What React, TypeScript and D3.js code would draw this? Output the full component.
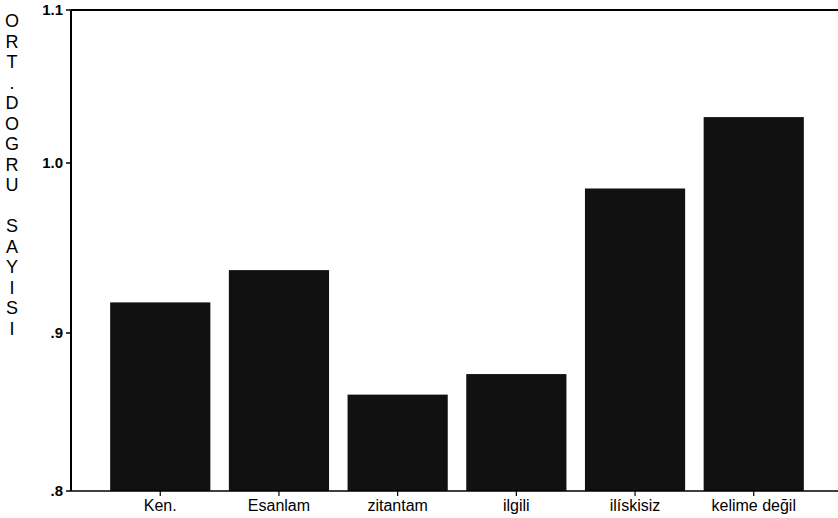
import React from "react";
import * as d3 from "d3";

const categories = ["Ken.", "Esanlam", "zitantam", "ilgili", "ilískisiz", "kelime değil"];
const values = [0.918, 0.937, 0.861, 0.874, 0.985, 1.03];
const yTicks = [0.8, 0.9, 1.0, 1.1];
const yTickLabels = [".8", ".9", "1.0", "1.1"];
const yTitle = "ORT.DOGRU SAYISI";

const W = 838;
const H = 518;

export default function App() {
  const left = 71;
  const top = 10;
  const bottom = 491;
  // scanned axis is slightly non-uniform; piecewise linear scale follows the printed ticks
  const y = d3.scaleLinear().domain(yTicks).range([491, 333, 163, 10]);
  const x = d3
    .scaleBand<string>()
    .domain(categories)
    .range([left, 843])
    .paddingInner(0.156)
    .paddingOuter(0.33);
  const font = "'Liberation Sans', Arial, sans-serif";
  const chars = yTitle.split("");
  return (
    <svg width={W} height={H} style={{ position: "absolute", left: 0, top: 0, background: "#fff" }}>
      <rect x={0} y={0} width={W} height={H} fill="#fff" />
      {categories.map((c, i) => (
        <rect
          key={c}
          x={x(c)}
          y={y(values[i])}
          width={x.bandwidth()}
          height={bottom - y(values[i])}
          fill="#111"
        />
      ))}
      {/* frame */}
      <line x1={left} x2={W} y1={top} y2={top} stroke="#000" strokeWidth={2} />
      <line x1={left} x2={left} y1={top} y2={bottom} stroke="#000" strokeWidth={2} />
      <line x1={left} x2={W} y1={bottom} y2={bottom} stroke="#000" strokeWidth={1.5} />
      {yTicks.map((t, i) => (
        <g key={t}>
          <line x1={left - 5} x2={left} y1={y(t)} y2={y(t)} stroke="#000" strokeWidth={1.5} />
          <text
            x={63}
            y={y(t)}
            dy="0.35em"
            textAnchor="end"
            fontFamily={font}
            fontSize={15}
            fontWeight="bold"
            fill="#000"
          >
            {yTickLabels[i]}
          </text>
        </g>
      ))}
      {categories.map((c) => {
        const cx = (x(c) as number) + x.bandwidth() / 2;
        return (
          <g key={c}>
            <line x1={cx} x2={cx} y1={bottom} y2={bottom + 5} stroke="#000" strokeWidth={1.2} />
            <text x={cx} y={511} textAnchor="middle" fontFamily={font} fontSize={16} fill="#000">
              {c}
            </text>
          </g>
        );
      })}
      {chars.map((ch, i) => (
        <text
          key={i}
          x={12}
          y={21 + i * 20.5}
          dy="0.36em"
          textAnchor="middle"
          fontFamily={font}
          fontSize={18}
          fill="#000"
        >
          {ch}
        </text>
      ))}
    </svg>
  );
}
